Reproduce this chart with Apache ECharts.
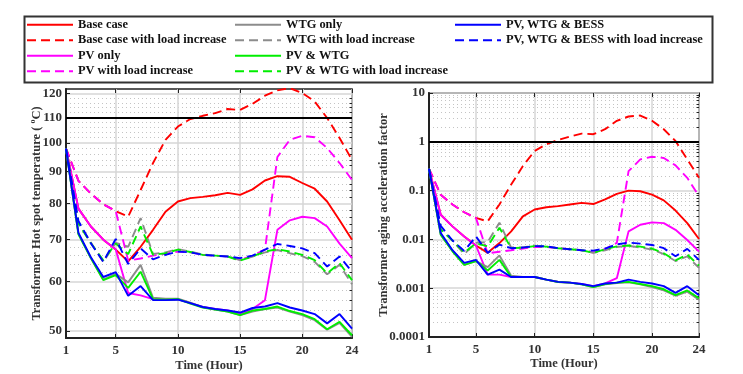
<!DOCTYPE html>
<html>
<head>
<meta charset="utf-8">
<script src="https://cdn.jsdelivr.net/npm/echarts@6/dist/echarts.min.js"></script>
<style>
  html, body { margin: 0; background: #fff; }
  #chart { width: 743px; height: 374px; }
</style>
</head>
<body>
<div id="chart"></div>
<script>
// hours on the x axis
const hours = [1,2,3,4,5,6,7,8,9,10,11,12,13,14,15,16,17,18,19,20,21,22,23,24];

// left panel: hot spot temperature (degC)
const baseCase   = [98, 78.5, 73.5, 70, 67.5, 64.6, 68.2, 72.6, 77.6, 80.6, 81.6, 82.0, 82.5, 83.2, 82.6, 84.3, 87.1, 88.5, 88.3, 86.3, 84.5, 80.6, 75.2, 70];
const baseLI     = [98, 87, 83, 79.8, 77.8, 76.2, 84.1, 92.9, 101.2, 106.3, 109.3, 110.6, 111.7, 113.4, 113.0, 115.6, 119.1, 121.5, 122.5, 120.3, 116.6, 109.7, 101.9, 94.0];
const pvOnly     = [98, 78.5, 73.5, 70, 67.5, 57.5, 57.0, 56.2, 56.1, 56.2, 55.4, 54.6, 54.2, 53.9, 53.3, 54.2, 56.0, 72.6, 75.2, 76.2, 75.8, 73.5, 69.0, 65.4];
const pvLI       = [98, 87, 83, 79.8, 77.8, 64.8, 65.3, 66.0, 66.5, 67.0, 66.8, 66.2, 66.0, 65.8, 65.0, 66.0, 67.5, 95, 101.2, 102.7, 102.2, 98.2, 92.9, 87.3];
const wtgOnly    = [98, 71.6, 65.4, 60.4, 61.7, 59.8, 63.8, 56.5, 56.3, 56.3, 55.5, 54.6, 54.1, 53.7, 53.0, 53.7, 54.2, 54.5, 53.7, 53.0, 52.0, 50.2, 51.5, 48.9];
const wtgLI      = [98, 74.5, 69.3, 64.5, 69.2, 68.2, 75.8, 66.4, 66.8, 67.6, 67.0, 66.3, 66.0, 65.8, 64.9, 65.8, 66.8, 67.4, 66.6, 65.9, 64.5, 61.6, 63.8, 59.4];
const pvWtg      = [98, 71.4, 65.4, 60.3, 61.4, 58.6, 62.2, 56.2, 56.1, 56.2, 55.3, 54.5, 54.1, 53.7, 53.0, 53.9, 54.2, 54.7, 53.8, 53.2, 52.2, 50.3, 51.7, 49.2];
const pvWtgLI    = [98, 74.3, 69.1, 64.9, 69.0, 66.4, 73.5, 66.2, 66.6, 67.5, 66.9, 66.2, 66.0, 65.8, 64.8, 65.8, 67.0, 67.6, 67.0, 66.2, 64.9, 61.8, 64.2, 60.3];
const bess       = [98, 71.8, 65.6, 61.0, 62.1, 56.9, 59.0, 56.0, 56.0, 56.1, 55.4, 54.6, 54.2, 53.9, 53.5, 54.4, 54.7, 55.4, 54.5, 53.9, 53.2, 51.4, 53.2, 50.4];
const bessLI     = [98, 75.0, 69.1, 64.5, 70.2, 64.0, 67.8, 65.1, 66.2, 67.0, 66.8, 66.2, 66.0, 65.8, 65.4, 66.0, 67.5, 68.9, 68.4, 67.8, 66.6, 63.4, 65.8, 62.2];

// right panel: aging acceleration factor
const baseCaseF  = [0.28, 0.032, 0.0185, 0.0115, 0.0075, 0.0053, 0.0084, 0.0146, 0.0297, 0.041, 0.0455, 0.048, 0.052, 0.056, 0.053, 0.066, 0.086, 0.1, 0.097, 0.083, 0.063, 0.039, 0.0216, 0.0102];
const baseLIF    = [0.28, 0.082, 0.052, 0.036, 0.0275, 0.0234, 0.052, 0.133, 0.32, 0.65, 0.89, 1.09, 1.28, 1.47, 1.43, 1.81, 2.69, 3.3, 3.45, 2.69, 1.81, 1.04, 0.436, 0.183];
const pvOnlyF    = [0.28, 0.032, 0.0185, 0.0115, 0.0075, 0.0019, 0.0019, 0.0017, 0.0017, 0.0017, 0.0015, 0.00135, 0.0013, 0.00122, 0.0011, 0.00125, 0.0016, 0.0146, 0.02, 0.0223, 0.0215, 0.0157, 0.0097, 0.0056];
const pvLIF      = [0.28, 0.082, 0.052, 0.036, 0.0275, 0.0052, 0.0056, 0.006, 0.0065, 0.007, 0.007, 0.0066, 0.0063, 0.006, 0.0054, 0.0063, 0.0085, 0.25, 0.436, 0.495, 0.466, 0.328, 0.183, 0.077];
const wtgOnlyF   = [0.28, 0.0125, 0.0058, 0.003, 0.0036, 0.0027, 0.0047, 0.0018, 0.0017, 0.0017, 0.0015, 0.00134, 0.0013, 0.0012, 0.00105, 0.0012, 0.00128, 0.00132, 0.0012, 0.00105, 0.0009, 0.0007, 0.00085, 0.00058];
const wtgLIF     = [0.28, 0.016, 0.0095, 0.005, 0.0085, 0.0088, 0.022, 0.0068, 0.0069, 0.0074, 0.0071, 0.0066, 0.0063, 0.006, 0.0053, 0.006, 0.007, 0.0074, 0.0068, 0.0062, 0.005, 0.0036, 0.0045, 0.0026];
const pvWtgF     = [0.28, 0.0125, 0.0057, 0.003, 0.0036, 0.0023, 0.0038, 0.0017, 0.0017, 0.0017, 0.0015, 0.00134, 0.0013, 0.0012, 0.00105, 0.00122, 0.0013, 0.00135, 0.00122, 0.0011, 0.00095, 0.00072, 0.0009, 0.00062];
const pvWtgLIF   = [0.28, 0.016, 0.0095, 0.0054, 0.0083, 0.0072, 0.0174, 0.0066, 0.0068, 0.0073, 0.0071, 0.0066, 0.0063, 0.006, 0.0053, 0.0063, 0.0072, 0.0075, 0.0071, 0.0065, 0.0052, 0.0037, 0.0049, 0.0029];
const bessF      = [0.28, 0.0135, 0.006, 0.0033, 0.0038, 0.0019, 0.0024, 0.0017, 0.0017, 0.0017, 0.0015, 0.00135, 0.0013, 0.00122, 0.0011, 0.00125, 0.0013, 0.0015, 0.00135, 0.00125, 0.0011, 0.0008, 0.0011, 0.00072];
const bessLIF    = [0.28, 0.019, 0.0095, 0.0058, 0.0115, 0.0053, 0.0078, 0.0066, 0.0068, 0.0073, 0.0072, 0.0066, 0.0063, 0.006, 0.0059, 0.0065, 0.0079, 0.0086, 0.0082, 0.0077, 0.0066, 0.0045, 0.0064, 0.0038];

// tick labels
const xTicks = [1, 5, 10, 15, 20, 24];
const tempTicks = [50, 60, 70, 80, 90, 100, 110, 120];
const tempMinor = [52, 54, 56, 58, 62, 64, 66, 68, 72, 74, 76, 78, 82, 84, 86, 88, 92, 94, 96, 98, 102, 104, 106, 108, 112, 114, 116, 118];
const faaTicks = [0.0001, 0.001, 0.01, 0.1, 1, 10];
const faaMinor = [0.0002, 0.0003, 0.0004, 0.0005, 0.0006, 0.0007, 0.0008, 0.0009,
                  0.002, 0.003, 0.004, 0.005, 0.006, 0.007, 0.008, 0.009,
                  0.02, 0.03, 0.04, 0.05, 0.06, 0.07, 0.08, 0.09,
                  0.2, 0.3, 0.4, 0.5, 0.6, 0.7, 0.8, 0.9,
                  2, 3, 4, 5, 6, 7, 8, 9];

const names = ['Base case', 'Base case with load increase', 'PV only', 'PV with load increase',
  'WTG only', 'WTG with load increase', 'PV & WTG', 'PV & WTG with load increase',
  'PV, WTG & BESS', 'PV, WTG & BESS with load increase'];
const colors = ['#ff0000', '#ff0000', '#ff00ff', '#ff00ff', '#8c8c8c', '#8c8c8c', '#00ee00', '#00ee00', '#0000ff', '#0000ff'];
const leftData = [baseCase, baseLI, pvOnly, pvLI, wtgOnly, wtgLI, pvWtg, pvWtgLI, bess, bessLI];
const rightData = [baseCaseF, baseLIF, pvOnlyF, pvLIF, wtgOnlyF, wtgLIF, pvWtgF, pvWtgLIF, bessF, bessLIF];

const FONT = 'Liberation Serif';
const txt = { fontFamily: FONT, fontWeight: 'bold', color: '#333' };

function makeSeries(dataSets, gridIdx, limit) {
  return dataSets.map(function (vals, i) {
    const s = {
      name: names[i],
      type: 'line',
      xAxisIndex: gridIdx * 2,
      yAxisIndex: gridIdx * 2,
      symbol: 'none',
      data: hours.map(function (h, k) { return [h, vals[k]]; }),
      lineStyle: { color: colors[i], width: 1.9, type: i % 2 ? [9, 5] : 'solid' },
      itemStyle: { color: colors[i] }
    };
    if (i === 0) {
      s.markLine = {
        silent: true, symbol: 'none', label: { show: false },
        lineStyle: { color: '#000', width: 2, type: 'solid' },
        data: [{ yAxis: limit }]
      };
    }
    return s;
  });
}

function xAxes(gridIdx) {
  return [{
    type: 'value', gridIndex: gridIdx, min: 1, max: 24,
    name: 'Time (Hour)', nameLocation: 'middle', nameGap: gridIdx ? 20 : 21, nameMoveOverlap: false,
    nameTextStyle: Object.assign({ fontSize: 12.5 }, txt),
    axisLine: { lineStyle: { color: '#222', width: 2 } },
    axisTick: { inside: true, length: 4, customValues: xTicks, lineStyle: { color: '#222' } },
    axisLabel: Object.assign({ fontSize: 13, margin: 6, customValues: xTicks }, txt),
    splitLine: { lineStyle: { color: '#d6d6d6', width: 1.5 } }
  }, {
    type: 'value', gridIndex: gridIdx, min: 1, max: 24, position: 'top',
    axisLine: { show: false }, axisLabel: { show: false },
    axisTick: { inside: true, length: 4, customValues: xTicks, lineStyle: { color: '#222' } },
    splitLine: { show: false }
  }];
}

function yAxes(gridIdx, cfg) {
  return [{
    type: 'log', gridIndex: gridIdx, min: cfg.min, max: cfg.max, logBase: 10,
    name: cfg.name, nameLocation: 'middle', nameGap: cfg.gap, nameMoveOverlap: false,
    nameTextStyle: Object.assign({ fontSize: 12.5, rich: cfg.rich }, txt),
    axisLine: { lineStyle: { color: '#222', width: 2 } },
    axisTick: { inside: true, length: 4, customValues: cfg.ticks, lineStyle: { color: '#222' } },
    axisLabel: Object.assign({ fontSize: 13, margin: 4, customValues: cfg.ticks, formatter: function (v) { return String(v); } }, txt),
    splitLine: { lineStyle: { color: '#d6d6d6', width: 1.5 } }
  }, {
    type: 'log', gridIndex: gridIdx, min: cfg.min, max: cfg.max, logBase: 10, position: 'right',
    axisLine: { show: false }, axisLabel: { show: false },
    axisTick: { inside: true, length: 2.5, customValues: cfg.minor, lineStyle: { color: '#222' } },
    splitLine: { lineStyle: { color: '#c4c4c4', width: 1, type: [1, 3] } }
  }];
}

const legendBase = {
  orient: 'vertical', top: 17, padding: 0, itemWidth: 46, itemHeight: 10, itemGap: 0,
  itemStyle: { opacity: 0 },
  textStyle: { fontFamily: FONT, fontWeight: 'bold', fontSize: 12.4, color: '#111', lineHeight: 15.5 }
};

const chart = echarts.init(document.getElementById('chart'));
chart.setOption({
  animation: false,
  backgroundColor: '#fff',
  graphic: [{
    type: 'rect', left: 22, top: 14, shape: { width: 688, height: 66 },
    style: { fill: 'none', stroke: '#333', lineWidth: 2 }, silent: true
  }],
  legend: [
    Object.assign({ left: 26, data: names.slice(0, 4) }, legendBase),
    Object.assign({ left: 234, data: names.slice(4, 8) }, legendBase),
    Object.assign({ left: 454, data: names.slice(8) }, legendBase)
  ],
  grid: [
    { left: 66, top: 89, width: 286, height: 249, show: true, borderColor: '#222', borderWidth: 1.5, outerBoundsMode: 'none' },
    { left: 429, top: 93, width: 270, height: 244, show: true, borderColor: '#222', borderWidth: 1.5, outerBoundsMode: 'none' }
  ],
  xAxis: xAxes(0).concat(xAxes(1)),
  yAxis: yAxes(0, {
    min: 48.7, max: 122.1, ticks: tempTicks, minor: tempMinor, gap: 22,
    name: 'Transformer Hot spot temperature ( {s|o}C)',
    rich: { s: { fontFamily: FONT, fontWeight: 'bold', fontSize: 8, color: '#333', padding: [0, 0, 7, 0] } }
  }).concat(yAxes(1, {
    min: 0.0001, max: 10, ticks: faaTicks, minor: faaMinor, gap: 39,
    name: 'Transformer aging acceleration factor'
  })),
  series: makeSeries(leftData, 0, 110).concat(makeSeries(rightData, 1, 1))
});
</script>
</body>
</html>
